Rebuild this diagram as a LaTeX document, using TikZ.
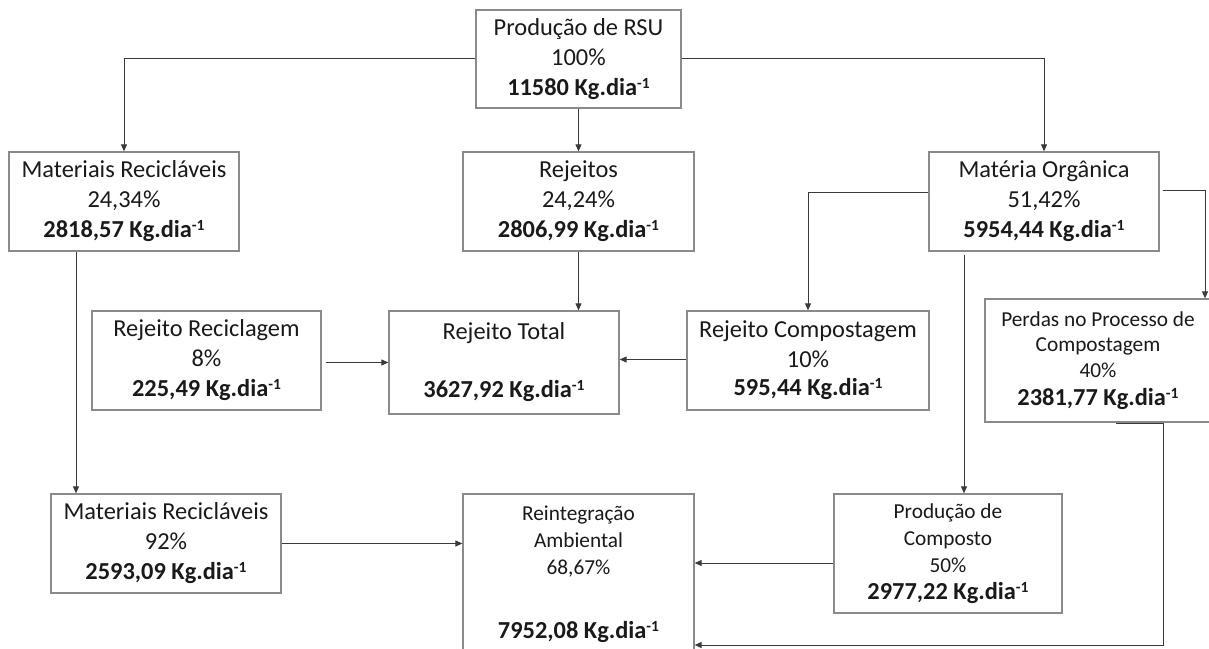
\documentclass[tikz,border=0pt]{standalone}
\usepackage{fontspec}
\setmainfont{Carlito}
\usetikzlibrary{arrows.meta}
\definecolor{boxgray}{HTML}{8A8A8A}
\definecolor{linegray}{HTML}{3A3A3A}
\definecolor{textdark}{HTML}{1A1A1A}
\newcommand{\bigf}{\fontsize{24.4}{30}\selectfont}
\newcommand{\smallf}{\fontsize{21.3}{26}\selectfont}
\newcommand{\supm}{\raisebox{7pt}{\fontsize{15.5}{15.5}\selectfont -1}}
\newcommand{\kg}[1]{\textbf{#1 Kg.dia\supm}}
\tikzset{
  boxnode/.style={draw=boxgray, line width=1.3pt, align=center, inner sep=0pt, font=\bigf, text=textdark},
  arr/.style={draw=linegray, line width=1pt, -{Triangle[length=7pt,width=6pt]}},
  plain/.style={draw=linegray, line width=1pt}
}
\begin{document}
\begin{tikzpicture}[x=1pt,y=-1pt]
\useasboundingbox (0,0) rectangle (1209,648);
\clip (0,0) rectangle (1209,648);
\fill[white] (0,0) rectangle (1209,648);

\node[boxnode, minimum width=205pt, minimum height=98pt] (top) at (578.5,59)
  {Produção de RSU\\100\%\\\kg{11580}};
\node[boxnode, minimum width=230pt, minimum height=99pt] (matrec) at (124,201.5)
  {Materiais Recicláveis\\24,34\%\\\kg{2818,57}};
\node[boxnode, minimum width=231pt, minimum height=99pt] (rejeitos) at (578.5,201.5)
  {Rejeitos\\24,24\%\\\kg{2806,99}};
\node[boxnode, minimum width=230pt, minimum height=99pt] (materia) at (1044,201.5)
  {Matéria Orgânica\\51,42\%\\\kg{5954,44}};
\node[boxnode, minimum width=229pt, minimum height=99pt] (rejrec) at (206.5,360.5)
  {Rejeito Reciclagem\\8\%\\\kg{225,49}};
\node[boxnode, minimum width=230pt, minimum height=103pt] (rejtot) at (504,362.5)
  {Rejeito Total\\\strut\\[-2pt]\kg{3627,92}};
\node[boxnode, minimum width=242pt, minimum height=99pt] (rejcomp) at (808,360.5)
  {Rejeito Compostagem\\10\%\\[-2pt]\kg{595,44}};
\node[boxnode, minimum width=226pt, minimum height=123pt] (perdas) at (1098,360.5)
  {{\smallf Perdas no Processo de}\\[-5pt]{\smallf Compostagem}\\[-4pt]{\smallf 40\%}\\[-2pt]\kg{2381,77}};
\node[boxnode, minimum width=230pt, minimum height=99pt] (matrec2) at (166,543.5)
  {Materiais Recicláveis\\92\%\\\kg{2593,09}};
\node[boxnode, minimum width=231pt, minimum height=160pt] (reint) at (578.5,574)
  {{\smallf Reintegração}\\[-3pt]{\smallf Ambiental}\\[-3pt]{\smallf 68,67\%}\\[34pt]\kg{7952,08}};
\node[boxnode, minimum width=228pt, minimum height=119pt] (prodcomp) at (948,553.5)
  {{\smallf Produção de}\\[-3pt]{\smallf Composto}\\[-3pt]{\smallf 50\%}\\[-3pt]\kg{2977,22}};

% connectors
\draw[arr] ([yshift=1pt]top.west) -| (matrec.north);
\draw[arr] (top.south) -- (rejeitos.north);
\draw[arr] ([yshift=1pt]top.east) -| (materia.north);
\draw[arr] ([xshift=-48pt]matrec.south) -- ([xshift=-48pt]matrec.south |- matrec2.north);
\draw[arr] (rejeitos.south) -- (rejeitos.south |- rejtot.north);
\draw[arr] ([xshift=4pt,yshift=-2pt]rejrec.east) -- ([yshift=-2pt]rejrec.east -| rejtot.west);
\draw[arr] ([yshift=1pt]rejcomp.west) -- ([yshift=1pt]rejcomp.west -| rejtot.east);
\draw[arr] ([yshift=9.5pt]materia.west) -| (rejcomp.north);
\draw[arr] ([yshift=11.5pt,xshift=3pt]materia.east) -| ([xshift=107pt]perdas.north);
\draw[arr] ([xshift=-80pt,yshift=-3pt]materia.south) -- ([xshift=-80pt]materia.south |- prodcomp.north);
\draw[arr] ([yshift=-9.5pt]prodcomp.west) -- ([yshift=-9.5pt]prodcomp.west -| reint.east);
\draw[arr] (matrec2.east) -- (matrec2.east -| reint.west);
\draw[arr] ([xshift=18pt,yshift=-1pt]perdas.south) -- ++(47,0) |- ([yshift=-71pt]reint.east);
\end{tikzpicture}
\end{document}
